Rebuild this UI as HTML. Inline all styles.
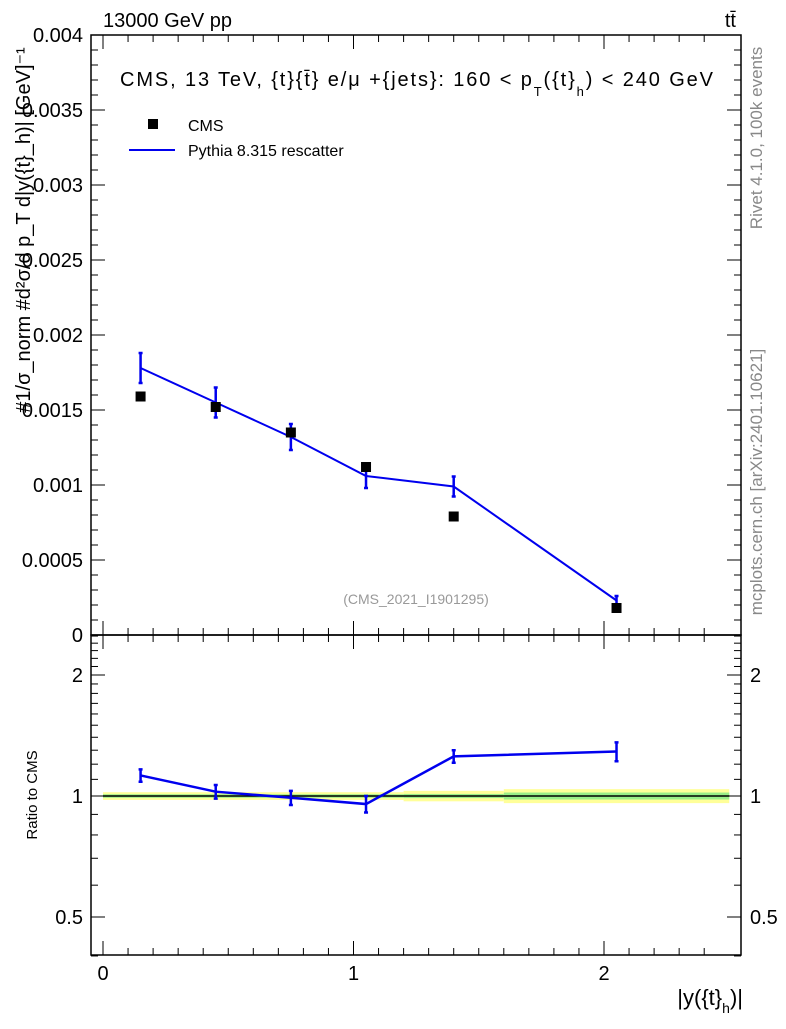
<!DOCTYPE html>
<html><head><meta charset="utf-8"><style>
body{margin:0;background:#fff;}
svg text{font-family:"Liberation Sans",sans-serif;}
</style></head><body>
<svg id="c" width="786" height="1024" xmlns="http://www.w3.org/2000/svg">
<g id="g"></g>
</svg>
<script>
const binCenters=[0.15,0.45,0.75,1.05,1.4,2.05];
const cmsVals=[0.00159,0.00152,0.00135,0.00112,0.00079,0.00018];
const pyVals=[0.00178,0.00155,0.00132,0.00106,0.00099,0.00023];
const pyErr=[0.0001,0.0001,0.000087,0.00008,0.000067,0.00003];
const ratioVals=[1.125,1.025,0.99,0.955,1.255,1.29];
const ratioErr=[0.04,0.04,0.04,0.045,0.045,0.07];
const bandEdges=[0,1.2,1.6,2.5];
const bandYellow=[0.022,0.03,0.04];
const bandGreen=[0.01,0.012,0.02];
const mainTicks=["0","0.0005","0.001","0.0015","0.002","0.0025","0.003","0.0035","0.004"];
const ratioTicks=[0.5,1,2];
const xTicks=[0,1,2];

const NS="http://www.w3.org/2000/svg";
const g=document.getElementById('g');
const L=91,R=741,T=35,M=635,B=955;
const X=v=>103+v*250.5;
const Y=v=>635-v*150000;
const YR=v=>796-Math.log2(v)*121;
function el(t,a,txt){const e=document.createElementNS(NS,t);for(const k in a)e.setAttribute(k,a[k]);if(txt!==undefined)e.textContent=txt;g.appendChild(e);return e;}

for(let i=0;i<bandYellow.length;i++){
 let b=el('rect',{x:X(bandEdges[i]),y:YR(1+bandYellow[i]),width:X(bandEdges[i+1])-X(bandEdges[i]),height:YR(1-bandYellow[i])-YR(1+bandYellow[i]),fill:'#ffff99'});
 
 
 let c=el('rect',{x:X(bandEdges[i]),y:YR(1+bandGreen[i]),width:X(bandEdges[i+1])-X(bandEdges[i]),height:YR(1-bandGreen[i])-YR(1+bandGreen[i]),fill:'#99ee88'});
 
 
}
el('line',{x1:X(0),x2:X(2.5),y1:YR(1),y2:YR(1),stroke:'#000','stroke-width':1.5});

let f1=el('rect',{x:L,y:T,width:R-L,height:M-T,fill:'none',stroke:'#000','stroke-width':1.5});

let f2=el('rect',{x:L,y:M,width:R-L,height:B-M,fill:'none',stroke:'#000','stroke-width':1.5});


for(let v=0;v<=2.5;v+=0.1){
 const big=Math.abs(v-Math.round(v))<1e-6, len=big?14:7, x=X(v);
 for(const [y0,d] of [[T,1],[M,-1],[M,1],[B,-1]]) el('line',{x1:x,x2:x,y1:y0,y2:y0+d*len,stroke:'#000'});
}
xTicks.forEach(v=>{let t=el('text',{x:X(v),y:980,'font-size':20,'text-anchor':'middle'},String(v));});
for(let i=0;i<=40;i++){const v=i*0.0001,y=Y(v),len=i%5==0?14:7;
 el('line',{x1:L,x2:L+len,y1:y,y2:y,stroke:'#000'});el('line',{x1:R,x2:R-len,y1:y,y2:y,stroke:'#000'});}
mainTicks.forEach((s,i)=>{let t=el('text',{x:83,y:Y(i*0.0005)+7,'font-size':20,'text-anchor':'end'},s);});
for(let v=0.4;v<=2.5001;v+=0.1){const y=YR(v),big=[0.5,1,2].some(k=>Math.abs(k-v)<1e-6),len=big?14:7;
 el('line',{x1:L,x2:L+len,y1:y,y2:y,stroke:'#000'});el('line',{x1:R,x2:R-len,y1:y,y2:y,stroke:'#000'});}
ratioTicks.forEach(v=>{
 let t=el('text',{x:83,y:YR(v)+7,'font-size':20,'text-anchor':'end'},String(v));
 let t2=el('text',{x:750,y:YR(v)+7,'font-size':20},String(v));});

let pts=binCenters.map((c,i)=>X(c)+','+Y(pyVals[i])).join(' ');
let pl=el('polyline',{points:pts,fill:'none',stroke:'#0000ee','stroke-width':2});

binCenters.forEach((c,i)=>{
 const x=X(c),y1=Y(pyVals[i]+pyErr[i]),y2=Y(pyVals[i]-pyErr[i]);
 let e=el('path',{d:`M${x},${y1}V${y2}M${x-2},${y1}h4M${x-2},${y2}h4`,stroke:'#0000ee','stroke-width':2.5});
 
});
binCenters.forEach((c,i)=>{let p=el('rect',{x:X(c)-5,y:Y(cmsVals[i])-5,width:10,height:10,fill:'#000'});
 });
let rpts=binCenters.map((c,i)=>X(c)+','+YR(ratioVals[i])).join(' ');
let rl=el('polyline',{points:rpts,fill:'none',stroke:'#0000ee','stroke-width':2.5});

binCenters.forEach((c,i)=>{
 const x=X(c),y1=YR(ratioVals[i]+ratioErr[i]),y2=YR(ratioVals[i]-ratioErr[i]);
 let e=el('path',{d:`M${x},${y1}V${y2}M${x-2},${y1}h4M${x-2},${y2}h4`,stroke:'#0000ee','stroke-width':2.5});
 
});

function tx(n,a,s){let t=el('text',a,s);return t;}
tx('header-left',{x:103,y:27,'font-size':20},'13000 GeV pp');
tx('header-right',{x:736,y:27,'font-size':20,'text-anchor':'end'},'tt̄');
let tt=tx('plot-title',{x:120,y:86,'font-size':20,textLength:593,lengthAdjust:'spacing'},'');
tt.innerHTML='CMS, 13 TeV, {t}{t̄} e/μ +{jets}: 160 &lt;  p<tspan dy="10" font-size="13">T</tspan><tspan dy="-10">({t}</tspan><tspan dy="10" font-size="13">h</tspan><tspan dy="-10">) &lt; 240 GeV</tspan>';
let lm=el('rect',{x:148,y:119,width:10,height:10,fill:'#000'});
tx('legend-cms',{x:188,y:131,'font-size':16},'CMS');
let ll=el('line',{x1:129,x2:175,y1:150,y2:150,stroke:'#0000ee','stroke-width':2});
tx('legend-pythia',{x:188,y:156,'font-size':16},'Pythia 8.315 rescatter');
tx('analysis-id',{x:416,y:604,'font-size':14,fill:'#999','text-anchor':'middle'},'(CMS_2021_I1901295)');
let xt=tx('x-axis-title',{x:743,y:1005,'font-size':22,'text-anchor':'end'},'');
xt.innerHTML='|y({t}<tspan dy="8" font-size="14">h</tspan><tspan dy="-8">)|</tspan>';
tx('ratio-y-title',{x:0,y:0,'font-size':15,'text-anchor':'middle',transform:'translate(37,795) rotate(-90)'},'Ratio to CMS');
tx('y-axis-title',{x:0,y:0,'font-size':20,'text-anchor':'middle',transform:'translate(30,230) rotate(-90)'},'#1/σ_norm #d²σ/d p_T d|y({t}_h)| [GeV]⁻¹');
tx('rivet-label',{x:0,y:0,'font-size':17,fill:'#888','text-anchor':'middle',transform:'translate(762,138) rotate(-90)'},'Rivet 4.1.0,  100k events');
tx('mcplots-label',{x:0,y:0,'font-size':17,fill:'#888','text-anchor':'middle',transform:'translate(762,482) rotate(-90)'},'mcplots.cern.ch [arXiv:2401.10621]');
</script>
</body></html>
